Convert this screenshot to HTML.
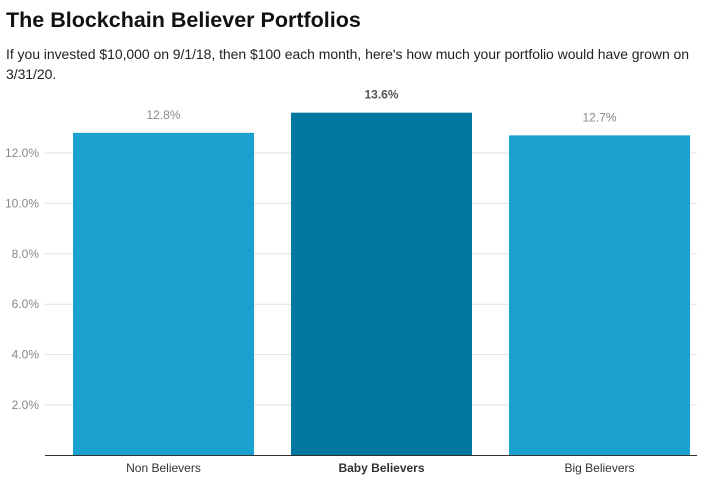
<!DOCTYPE html>
<html><head><meta charset="utf-8"><style>
body{margin:0;background:#fff;width:706px;height:489px;overflow:hidden;font-family:"Liberation Sans",sans-serif}
#title{position:absolute;left:6px;top:8px;font-size:21.5px;font-weight:bold;color:#111}
#sub{position:absolute;left:6px;top:44px;width:700px;font-size:14px;letter-spacing:-0.05px;line-height:20px;color:#222}
svg{position:absolute;left:0;top:0}
</style></head><body>
<div id="title">The Blockchain Believer Portfolios</div>
<div id="sub">If you invested $10,000 on 9/1/18, then $100 each month, here's how much your portfolio would have grown on 3/31/20.</div>
<svg id="c" width="706" height="489"></svg>
<script>
const categories=["Non Believers","Baby Believers","Big Believers"];
const values=[12.8,13.6,12.7];
const ticks=[2,4,6,8,10,12];
const highlight=[false,true,false];
const NS="http://www.w3.org/2000/svg";
const svg=document.getElementById('c');
const y=v=>455.4-v*25.2;
const bandX=i=>54.5+i*218;
function mk(t,a,txt){const e=document.createElementNS(NS,t);for(const k in a)e.setAttribute(k,a[k]);if(txt!==undefined)e.textContent=txt;svg.appendChild(e);return e;}
ticks.forEach(t=>{
 const g=mk('line',{x1:45,x2:697,y1:y(t),y2:y(t),stroke:'#e3e3e3','stroke-width':1});
 
 
 const l=mk('text',{x:39,y:y(t)+4,'text-anchor':'end','font-size':12,fill:'#888'},t.toFixed(1)+'%');
 
 
});
values.forEach((v,i)=>{
 const x0=bandX(i)+18.5,w=181;
 const r=mk('rect',{x:x0,y:y(v),width:w,height:y(0)-y(v),fill:highlight[i]?'#0077a0':'#1ba1cf'});
 
 
 const vl=mk('text',{x:x0+w/2,y:y(v)-14,'text-anchor':'middle','font-size':12,fill:highlight[i]?'#555':'#888','font-weight':highlight[i]?'bold':'normal'},v.toFixed(1)+'%');
 
 
 const cl=mk('text',{x:x0+w/2,y:472,'text-anchor':'middle','font-size':12,fill:'#333','font-weight':highlight[i]?'bold':'normal'},categories[i]);
 
 
});
const ax=mk('line',{x1:45,x2:697,y1:455.5,y2:455.5,stroke:'#333','stroke-width':1});


</script>
</body></html>
